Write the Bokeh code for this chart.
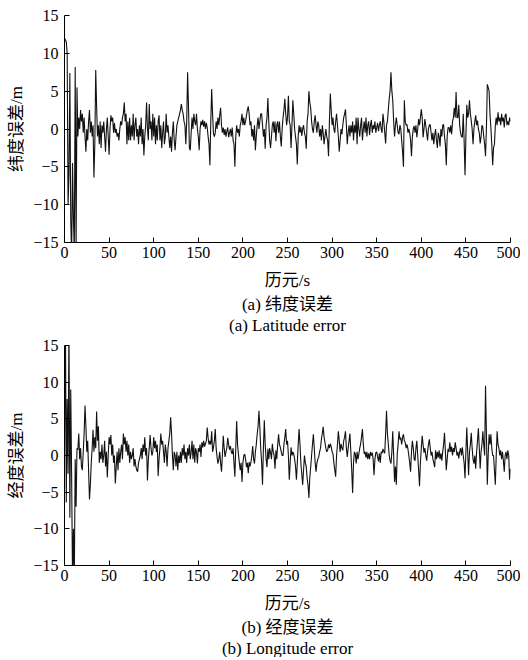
from bokeh.plotting import figure
from bokeh.layouts import column
from bokeh.models import FixedTicker, Title, Range1d
from bokeh.embed import file_html
from bokeh.resources import INLINE

epochs = list(range(0, 501))

lat_err = [
    12, 11.8, 11.5, 10, -10, -6, 7.4, -12, -17, -4.5, -12,
    -16, 8.2, -16, 5.5, -1, 1.5, 0, 2.5, 1, 2,
    -0.5, 1.5, -1, -3, 0, -1.5, 1, 2.5, -0.5, 1,
    -1, 0.5, -6.4, -2, 7.8, 3, -1, 0.5, -2, 1,
    -2.5, 0.5, -0.5, 1, -1, -3, 0, 1.5, -1, -3.4,
    0, 1.8, 1, 1.5, -0.5, 0.8, -0.5, 0, -1, -0.5,
    -1.5, 0, 1, 0.5, 1.5, 2, 3.5, 1, 2, -2,
    1, -1.5, 1.5, -1.5, 0.5, -1, 2, -1.5, 0.5, 1.5,
    -1, 0, -2, 0.5, -1, 1.5, -2, 0, -3.5, -1,
    0.5, 3.5, 0, -1.5, 3.3, 0, 1, -1.5, 2, -1,
    1.5, -2, 0.5, -1.5, 1, 1.8, -1.5, 0.5, -2.5, -0.5,
    1, -2, -1, 2, -0.5, 0.5, -1, -2.5, -1, -3,
    -0.5, 1, -1.5, -2.8, -1, 0.5, 1, 1.5, 2, 2.5,
    3.3, 2.5, 2, 1, 0.5, -2, 1, 7.5, 3, -2.5,
    -2.8, -0.5, 1.5, 0, 2, 1, 0.5, 2, 0, -1,
    -2.8, 0, 1, 0.5, 1.2, 0.3, 1, 0, 0.8, 0.2,
    -1, -2, -4.8, 1, 5.3, 2, -0.6, -1, -0.5, 1,
    0, 1.5, 0.5, 1.8, 2.8, 0.5, -0.5, 0.2, -0.8, 0,
    -1, -0.3, 0.2, -1.1, -0.5, 0, -1, 0.2, -1.5, -2,
    -5, -1, 0.5, -0.5, 0, -1, 0.5, 1, 2, 0.5,
    1.5, 0.5, 1, 1.8, 2.5, 3, 2, 0.5, 1, -1,
    0, -1.5, 0.5, -2.8, -1, 0.5, 1.5, 0, 1, 2,
    2, 0.5, -1, 0, -2.6, 0.5, 1.5, 4.1, 1, -1.5,
    -2.5, -1, 0.5, 1, -0.5, 1, -1.6, 0.5, 1, -0.5,
    1, -1, -2.3, 0, 1.5, 2.5, 4, 2, 0.5, 1.5,
    4.4, 1, 0.5, -2.5, 0.5, 3.8, 2, 0, -1, -2,
    -4.7, -1, 0.5, -0.5, 0.3, -0.9, 0, 0.5, -0.5, -1,
    -2.6, 1, 2, 5, 3.5, 2.8, 1, 0, -0.5, 1,
    1.8, 0.5, -0.5, 1, 0.5, -1, 0, -1.5, 0.5, -0.5,
    -2, -1, 0, -1, -1.5, -3.6, 1, 4.7, 2.5, 0.5,
    1.5, 0, -0.5, 1, 2, 0.5, -1, -3, -1.5, 0,
    -0.7, 0.5, 1.5, 2, 2.6, 0.5, -2, -0.5, 0.5, -1,
    0.5, -0.5, 1, -1.5, 0.5, -0.5, 1.5, -2, 1.5, 0,
    -1, 0.5, 1.5, -1.5, 0, 1, -0.5, 1.5, -1, 0.5,
    1, -0.8, 0.5, 1.2, -0.5, 0.5, 0, 1, -0.5, 0.2,
    0.8, -0.3, 0.5, 1, 0, -0.5, 2, 1, -0.5, -1.9,
    0.5, 1, 2.5, 4, 5, 7.5, 5, 3.8, 1, -1,
    0.5, 1.5, 0.5, -0.5, -0.7, 0.5, 0, -1.5, -3, -5,
    3.8, 1, 0.5, 0.6, -0.5, 0, -0.5, -1.5, -3.6, -1,
    0, 0.4, -0.5, 0.5, -1.1, 0, 1.3, 0.5, 1.5, 2.6,
    1.5, -1.1, 0, 1.3, 0.5, -0.5, -1.5, 0, 0.5, 0.6,
    -0.5, -1.5, -0.5, -2, -0.8, 0, -1.5, -2.5, -0.5, -1,
    -2.3, 0, -1, 0.5, 0.6, -1, -2, -4.8, -1, 0.2,
    0.2, -0.5, 0.5, -0.7, 1, 1.5, 2.8, 1.5, 4.9, 1.5,
    1.5, 3.2, 0.5, -0.5, -1, -1.1, 2, -1.5, -6.1, -1,
    3.2, 1.5, 2, 3.8, 2, 1.1, 0, -2, 0, 1,
    1.8, 0.5, 1.1, 0, -0.5, -1.9, -1, 0.5, 0.2, -1,
    -2, -3.6, 0, 5.9, 5.5, 5, 2, 0.2, -2, -4.8,
    -2.5, -2, 0.5, 1.5, 0.5, 2.2, 1, 1.5, 0.5, 2,
    1, 1.5, 0.2, 1.8, 2, 0.5, 1, 0.5, 1.5, 1,
]

lon_err = [
    1, 20, -6.4, 7.7, -2.5, 18, -8.5, 9, -3, -17, -10,
    -17, -0.5, -7, 1, 0.8, 3, -0.5, 1, -1.5, -2,
    0.5, 3, 6.8, 4, 0.5, 2, -2, -6, -4, -1,
    1, 3.5, 0.5, 2.5, 1, 6, 2, 4, -1, 0.5,
    -0.5, 1.5, -1, 0, 2, -1.5, 0.5, -3, 0, 2.5,
    1.5, 2.8, 0, 1.5, -1, 0, -3.8, -1.5, 0.5, -2,
    1, -1, 0.5, 1.5, -0.5, 3, 1.5, 2.5, 0.5, 2,
    0, 1.5, -1, 0.5, -0.5, 0, 1, -1.5, -0.5, -1.5,
    -2, -2.2, -1, -0.5, 0, 1, -0.5, 1.5, 0.5, 2.5,
    0, 1, -3.4, -0.5, 1, 2.8, 1, 0, 0.5, 2.5,
    1, 2, 0.5, 1.5, -2.8, -0.5, 1, 3, 1.5, 2,
    0.5, -1, 1.5, 0.5, -1.5, 1, 2, 3, 5.2, 3,
    0, -2, 0.5, 0, -1.5, 0.5, -2, 0, -1, 0.5,
    -1, 1, 0, 1.5, -0.5, 0.5, -1, 1, 0, 1.5,
    -0.5, 0.5, 2, -0.5, 1.5, -1, 1, 0.5, -1.1, 1,
    0.5, 1.5, -0.2, 1.8, 1.1, 2, 1.2, 1.6, 2, 3.8,
    2.4, 1.5, 2, 1.5, 3.3, 0.5, 1.1, 2, 3.6, 1,
    -0.2, -1.1, -0.5, 0.5, -1, -2.2, 0, 2.7, 1, -0.2,
    0.5, 1, 2.4, 1.5, 0.8, 1.3, 0.5, 0.2, 1, -1,
    -2.9, 1, 4.7, 1.5, 0.2, -1, -2, -1, -3.6, -1,
    0, 0.2, -0.5, -1.6, -1, -2.4, -0.9, -1.5, -0.9, 0,
    1.3, -0.5, -1.1, 0.5, 1.5, 2.9, 4, 6.1, 3.8, 1,
    -1, -4, 1, 4.8, 1.5, -0.5, -1.6, 0.9, -0.5, 1,
    0.4, -0.5, 1.6, 0.5, 0, -1.8, 0.7, -0.5, 1.5, 2.9,
    1.5, 1.1, 0.5, 0, 0, 1.5, 2.5, 3.6, 1.5, 2,
    0, -3.3, -1, 1.1, 0, 0.5, 0.2, -0.5, -1.5, -3.3,
    -1, 1.5, 3.6, 1.5, -1.1, -2.5, -4, -2, 0, -1,
    -1.5, -3.1, -4, -5.8, -3, -1.6, 0, 1.5, 2.9, 1,
    -1, -2.2, -1, -0.5, -0.2, 0.5, 1, 2.2, 3, 3.9,
    2.5, 1.8, 1, 0.5, 0.7, 1.5, 1, 1.6, 1.2, 0.5,
    0.2, -1, -2, -2.9, 0, 1.5, 3.3, 2, 0.5, 1.6,
    1, 0.7, 2, 2.5, 3.3, 1, -0.2, 1, 2, 3,
    0.5, -2, -5.1, -1, 0.5, 0.2, -1.1, 0.5, -0.5, 0.2,
    1, 1.6, 2.5, 3.6, 1.5, 0.2, 0.5, -0.3, 0.5, -0.5,
    0.3, -0.5, 0.5, 0, 0.4, -0.5, -2.7, -0.5, 0.4, 0.5,
    -0.2, -0.8, 0.3, -1, 0.5, 0.3, 0.9, 0.5, 0.3, 3,
    6.1, 3, 1.6, 0, -0.7, -1.1, 0.5, 3.3, 0, -3.6,
    -1.5, -4, 0.2, 1.5, 3.3, 2.2, 2.4, 1.5, 2.5, 2.9,
    2, 1.8, 1, 1.5, 0.9, 0, -1, -2.2, 0.5, 2,
    1, -0.5, -0.7, 1, 2, 0, -2, -4.2, -1, 1,
    2.7, 1.5, 0.4, 1, 0, -0.7, 0.5, 1.5, 2.2, 1,
    0, 0.5, -0.5, -1, -1.6, 0.7, -0.5, 0.5, -0.3, 0.7,
    -0.5, 0.3, -0.7, 0.5, 1.5, 3.1, 0.5, -2, -0.5, 0.9,
    0.5, 1.8, 0.5, 1.2, 0, 1, 0.5, 1.8, 1, 0,
    0.5, -0.4, 0.5, 1, 0, 1.1, 0, -1, -3.1, 0.5,
    3.8, 0.5, -2.7, 0.5, 1.5, 3.1, 1, -0.5, -1.1, 0,
    -1.8, 0.5, 2, 3.7, 1, -1.8, 0.5, 1.5, 3.3, 1.5,
    0, 9.5, 3, -4, 0, 2.9, 1.5, 2.9, 1, 0,
    0, -2, -4, 0, 3.3, 1.5, 1, 0, 0.7, -0.5,
    0.5, -0.7, -2.2, 0, 0.5, -0.5, 0.7, 0, -3.3, -1.8,
]

x_ticks = [0, 50, 100, 150, 200, 250, 300, 350, 400, 450, 500]
y_ticks = [-15, -10, -5, 0, 5, 10, 15]
y_tick_labels = {-15: "\u221215", -10: "\u221210", -5: "\u22125", 0: "0", 5: "5", 10: "10", 15: "15"}

x_label = "历元/s"
panels = [
    (lat_err, "纬度误差/m", "(a) 纬度误差", "(a) Latitude error"),
    (lon_err, "经度误差/m", "(b) 经度误差", "(b) Longitude error"),
]

SERIF = "'Liberation Serif', 'Noto Sans CJK SC'"


def make(y, ylabel, cap_cn, cap_en, h, top, bottom):
    p = figure(width=520, height=h, x_range=Range1d(0, 500), y_range=Range1d(-15, 15),
               output_backend="svg", toolbar_location=None,
               min_border_left=64, min_border_right=10,
               min_border_top=top, min_border_bottom=bottom)
    p.line(epochs, y, line_color="#111111", line_width=1.1)
    p.outline_line_color = None
    p.xgrid.visible = False
    p.ygrid.visible = False
    p.background_fill_color = "white"
    for ax in (p.xaxis[0], p.yaxis[0]):
        ax.major_tick_in = 5
        ax.major_tick_out = 0
        ax.minor_tick_line_color = None
        ax.axis_line_color = "black"
        ax.major_tick_line_color = "black"
        ax.major_label_text_font = SERIF
        ax.major_label_text_font_size = "16px"
        ax.major_label_text_color = "black"
        ax.axis_label_text_font = SERIF
        ax.axis_label_text_font_size = "17px"
        ax.axis_label_text_font_style = "normal"
        ax.axis_label_text_color = "black"
    p.xaxis.ticker = FixedTicker(ticks=x_ticks)
    p.yaxis.ticker = FixedTicker(ticks=y_ticks)
    p.yaxis.major_label_overrides = y_tick_labels
    p.xaxis.major_label_standoff = 4
    p.yaxis.major_label_standoff = 6
    p.xaxis.axis_label = x_label
    p.yaxis.axis_label = ylabel
    p.xaxis.axis_label_standoff = 10
    p.yaxis.axis_label_standoff = 4
    for t in (cap_cn, cap_en):
        p.add_layout(Title(text=t, align="center", text_font=SERIF, text_font_size="17px",
                           text_font_style="normal", text_color="black", standoff=0, offset=0), "below")
    return p


p1 = make(*panels[0], h=335, top=15, bottom=93)
p2 = make(*panels[1], h=322, top=10, bottom=87)
layout = column(p1, p2, spacing=0)

open("out.html", "w").write(file_html(layout, INLINE))
